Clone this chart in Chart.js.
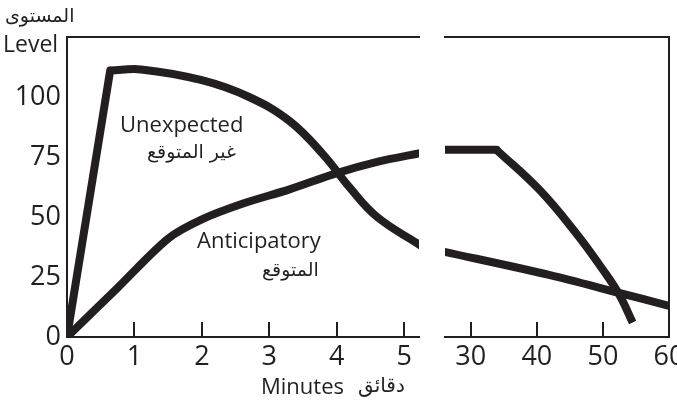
<!DOCTYPE html>
<html>
<head>
<meta charset="utf-8">
<script src="https://cdn.jsdelivr.net/npm/chart.js@4.4.1/dist/chart.umd.min.js"></script>
<style>
body{margin:0;background:#fff;width:677px;height:404px;overflow:hidden;position:relative;font-family:"Open Sans","DejaVu Sans",sans-serif;color:#231f20}
canvas{position:absolute;top:0}
.t{position:absolute;white-space:nowrap;line-height:1}
.ar{font-family:"DejaVu Sans",sans-serif}
</style>
</head>
<body>
<canvas id="left" width="425" height="404" style="left:0"></canvas>
<canvas id="right" width="247" height="404" style="left:430px"></canvas>

<div class="t ar" style="left:5px;top:6px;font-size:19px" dir="rtl">المستوى</div>
<div class="t" style="left:3px;top:32px;font-size:23px">Level</div>
<div class="t" style="left:120px;top:112px;font-size:22px">Unexpected</div>
<div class="t ar" style="left:147px;top:142px;font-size:19px" dir="rtl">غير المتوقع</div>
<div class="t" style="left:197px;top:228px;font-size:22px">Anticipatory</div>
<div class="t ar" style="left:262px;top:260px;font-size:19px" dir="rtl">المتوقع</div>
<div class="t" style="left:261px;top:374px;font-size:22px">Minutes</div>
<div class="t ar" style="left:358px;top:375px;font-size:20px" dir="rtl">دقائق</div>

<script>
// tick values
var leftTicks = [0, 1, 2, 3, 4, 5]
var rightTicks = [30, 40, 50, 60]
var yTicks = [0, 25, 50, 75, 100]

// unexpected, 0-5 min
var unexpRiseX = [0, 0.64]
var unexpRiseY = [0, 111]
var unexpLeftX = [0.64, 1.1, 2.0, 2.7, 3.3, 3.8, 4.2, 4.6, 5.25]
var unexpLeftY = [111, 111.5, 107, 100, 90, 76, 62, 50, 38]

// anticipatory, 0-5 min
var antLeftX = [0, 0.75, 1.5, 2.0, 2.6, 3.3, 4.0, 4.6, 5.25]
var antLeftY = [0, 20.5, 41, 49, 55.5, 61.5, 68.3, 73, 76.7]

// unexpected, 30-60 min
var unexpRightX = [26, 42, 52.3, 60]
var unexpRightY = [35.5, 25.8, 18.5, 13]

// anticipatory, 30-60 min
var antFlatX = [26, 33.9]
var antFlatY = [78, 78]
var antRightX = [33.9, 40.5, 46, 50, 52.5, 54.5]
var antRightY = [78, 61, 43, 28, 17.5, 6]

var ink = '#231f20'
var fam = '"Open Sans", "DejaVu Sans", sans-serif'

function pts(xs, ys){
    return xs.map((x, i) => ({x: x, y: ys[i]}))
}

function line(xs, ys, tension, cap){
    return {
        data: pts(xs, ys),
        borderColor: ink,
        borderWidth: 8,
        pointRadius: 0,
        fill: false,
        clip: 0,
        tension: tension,
        borderCapStyle: cap,
        borderJoinStyle: 'miter'
    }
}

function xAxis(min, max, ticks){
    return {
        type: 'linear', position: 'bottom', min: min, max: max,
        afterBuildTicks: s => { s.ticks = ticks.map(v => ({value: v})) },
        afterFit: s => { s.height = 67; s.paddingLeft = 0; s.paddingRight = 0 },
        grid: {display: true, drawOnChartArea: false, drawTicks: true, tickLength: -15, color: ink, lineWidth: 2},
        border: {display: true, color: ink, width: 2},
        ticks: {color: ink, font: {family: fam, size: 27}, padding: 19, maxRotation: 0, autoSkip: false}
    }
}

var topAxis = {
    type: 'linear', position: 'top', display: true,
    ticks: {display: false},
    grid: {display: false, drawTicks: false},
    border: {display: true, color: ink, width: 2},
    afterFit: s => { s.height = 0 }
}

var common = {
    responsive: false,
    animation: false,
    plugins: {legend: {display: false}, tooltip: {enabled: false}}
}

new Chart(document.getElementById('left'), {
    type: 'line',
    data: {
        datasets: [
            line(unexpRiseX, unexpRiseY, 0, 'round'),
            line(unexpLeftX, unexpLeftY, 0.4, 'butt'),
            line(antLeftX, antLeftY, 0.3, 'butt')
        ]
    },
    options: Object.assign({}, common, {
        layout: {padding: {top: 37, right: 6, left: 0, bottom: 0}},
        scales: {
            x: xAxis(0, 5.22, leftTicks),
            top: topAxis,
            y: {
                min: 0, max: 125,
                afterBuildTicks: s => { s.ticks = yTicks.map(v => ({value: v})) },
                afterFit: s => { s.width = 67 },
                grid: {display: false, drawTicks: false},
                border: {display: true, color: ink, width: 2},
                ticks: {color: ink, font: {family: fam, size: 27}, padding: 6}
            }
        }
    })
})

new Chart(document.getElementById('right'), {
    type: 'line',
    data: {
        datasets: [
            line(unexpRightX, unexpRightY, 0.3, 'butt'),
            line(antFlatX, antFlatY, 0, 'round'),
            line(antRightX, antRightY, 0.4, 'butt')
        ]
    },
    options: Object.assign({}, common, {
        layout: {padding: {top: 37, right: 8, left: 15, bottom: 0}},
        scales: {
            x: xAxis(26.1, 60, rightTicks),
            top: topAxis,
            y: {
                position: 'right', min: 0, max: 125,
                ticks: {display: false},
                grid: {display: false, drawTicks: false},
                border: {display: true, color: ink, width: 2},
                afterFit: s => { s.width = 0 }
            }
        }
    })
})
</script>
</body>
</html>
